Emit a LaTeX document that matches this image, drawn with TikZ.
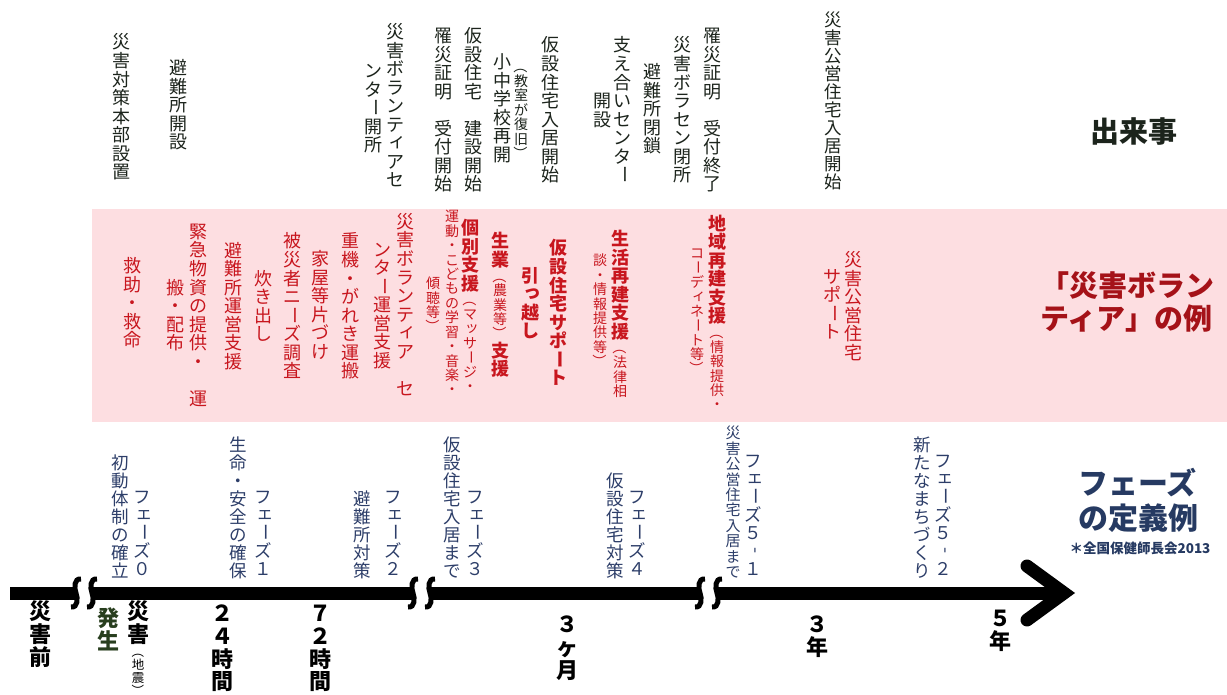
\documentclass[tikz,border=0pt]{standalone}
\usepackage{fontspec}
\usepackage{graphicx}
\setmainfont{Noto Sans CJK JP}
\newfontfamily\jp{Noto Sans CJK JP}
\newcommand\fsz[1]{\fontsize{#1}{#1}\selectfont}
% ---- vertical stacking of characters ----
\def\Vss{14}
\def\Vbs{18}
\def\Vcf{1.03}
\def\Vend{\Vend}
\def\VS{\VS}
\def\VB{\VB}
\newcommand\V[1]{\vbox{\offinterlineskip\Vloop#1\Vend}}
\def\Vloop#1{%
  \ifx#1\Vend
  \else
    \ifx#1\VS \mdseries\fontsize{\Vss}{\Vss}\selectfont
    \else
      \ifx#1\VB \bfseries\fontsize{\Vbs}{\Vbs}\selectfont
      \else \Vchar{#1}%
      \fi
    \fi
    \expandafter\Vloop
  \fi}
\def\Vcell#1{\hbox to 0pt{\hss\vbox to \Vcf em{\vss\hbox{#1}\vss}\hss}}
\def\Vput#1{\Vcell{\raisebox{0pt}[0.88em][0.12em]{#1}}}
\def\Vrot#1{\Vcell{\rotatebox[origin=c]{-90}{#1}}}
\def\Vsk#1{\Vcell{\raisebox{0.13em}[0.88em][0.12em]{\kern0.26em#1}}}
\def\Vchar#1{%
  \ifx#1ー\Vrot{#1}\else
  \ifx#1（\Vrot{#1}\else
  \ifx#1）\Vrot{#1}\else
  \ifx#1-\Vrot{#1}\else
  \ifx#1ィ\Vsk{#1}\else
  \ifx#1ェ\Vsk{#1}\else
  \ifx#1ッ\Vsk{#1}\else
  \ifx#1っ\Vsk{#1}\else
  \Vput{#1}%
  \fi\fi\fi\fi\fi\fi\fi\fi}
% ---- colours ----
\definecolor{evc}{RGB}{28,36,28}
\definecolor{redc}{RGB}{200,22,30}
\definecolor{dred}{RGB}{165,18,24}
\definecolor{pinkbg}{RGB}{253,222,225}
\definecolor{navy}{RGB}{45,62,105}
\definecolor{navyd}{RGB}{38,58,98}
\definecolor{grn}{RGB}{40,62,30}
\tikzset{
  vc/.style={inner sep=0pt},
  ev/.style={vc, text=evc, font=\jp\fsz{18}},
  rd/.style={vc, text=redc, font=\jp\fsz{18}},
  rdb/.style={vc, text=redc, font=\jp\bfseries\fsz{18}},
  rds/.style={vc, text=redc, font=\jp\fsz{14}},
  ph/.style={vc, anchor=south, text=navy, font=\jp\fsz{17.5}},
  tl/.style={vc, anchor=north, text=black, font=\jp\bfseries\fsz{22}},
  bar/.style={line width=13pt},
  brk/.pic={\draw[line width=5pt] (5,-14) .. controls (-2,-15) and (-2,-5) .. (0,0) .. controls (2,5) and (2,15) .. (-5,14);}
}
\begin{document}
\begin{tikzpicture}[x=1pt,y=-1pt]
\useasboundingbox (0,0) rectangle (1227,695);
\fill[white] (0,0) rectangle (1227,695);
\fill[pinkbg] (92,209) rectangle (1227,422);

% events
\node[ev] (e1) at (121,107) {\V{災害対策本部設置}};
\node[ev] (e2) at (178,105) {\V{避難所開設}};
\node[ev] (e3a) at (395,106) {\V{災害ボランティアセ}};
\node[ev] (e3b) at (373,108) {\V{ンター開所}};
\node[ev] (e4) at (443,110) {\V{罹災証明　受付開始}};
\node[ev] (e5) at (473,110) {\V{仮設住宅　建設開始}};
\node[ev] (e6) at (502,108) {\V{小中学校再開}};
\node[ev, font=\jp\fsz{14}] (e7) at (521,110) {\V{（教室が復旧）}};
\node[ev] (e8) at (550,110) {\V{仮設住宅入居開始}};
\node[ev] (e9a) at (622,110) {\V{支え合いセンター}};
\node[ev] (e9b) at (602,110) {\V{開設}};
\node[ev] (e10) at (652,109) {\V{避難所閉鎖}};
\node[ev] (e11) at (682,110) {\V{災害ボラセン閉所}};
\node[ev] (e12) at (712,110) {\V{罹災証明　受付終了}};
\node[ev, font=\jp\fsz{17.5}] (e13) at (833,101) {\V{災害公営住宅入居開始}};
\node[vc, text=evc, font=\jp\bfseries\fsz{29}] (t1) at (1134,132) {出来事};

% volunteer examples
\node[rd] (r1) at (132,303) {\V{救助・救命}};
\node[rd] (r2a) at (198,315) {\V{緊急物資の提供・　運}};
\node[rd] (r2b) at (175,315) {\V{搬・配布}};
\node[rd] (r3) at (233,306) {\V{避難所運営支援}};
\node[rd] (r4) at (263,306) {\V{炊き出し}};
\node[rd] (r5) at (292,306) {\V{被災者ニーズ調査}};
\node[rd] (r6) at (320,305) {\V{家屋等片づけ}};
\node[rd] (r7) at (350,306) {\V{重機・がれき運搬}};
\node[rd] (r8a) at (405,305) {\V{災害ボランティア　セ}};
\node[rd] (r8b) at (382,305) {\V{ンター運営支援}};
\node[rdb] (r9) at (470,306) {\V{個別支援\VS （マッサージ・}};
\node[rds] (r10) at (452,303) {\V{運動・こどもの学習・音楽・}};
\node[rds] (r11) at (433,305) {\V{傾聴等）}};
\node[rdb] (r12) at (500,305) {\V{生業\VS （農業等）\VB 支援}};
\node[rdb] (r13) at (558,313) {\V{仮設住宅サポート}};
\node[rdb] (r14) at (530,303) {\V{引っ越し}};
\node[rdb] (r15) at (620,314) {\V{生活再建支援\VS （法律相}};
\node[rds] (r16) at (600,311) {\V{談・情報提供等）}};
\node[rdb] (r17) at (717,313) {\V{地域再建支援\VS （情報提供・}};
\node[rds] (r18) at (697,311) {\V{コーディネート等）}};
\node[rd] (r19a) at (853,306) {\V{災害公営住宅}};
\node[rd] (r19b) at (832,304) {\V{サポート}};
\node[text=dred, font=\jp\bfseries\fontsize{29}{33}\selectfont, align=left, anchor=west, inner sep=0pt] (t2) at (1040,302) {「災害ボラン\\ティア」の例};

% phases
\node[ph] (p0a) at (142,578) {\V{フェーズ０}};
\node[ph] (p0b) at (120,580) {\V{初動体制の確立}};
\node[ph] (p1a) at (263,578) {\V{フェーズ１}};
\node[ph] (p1b) at (238,580) {\V{生命・安全の確保}};
\node[ph] (p2a) at (393,578) {\V{フェーズ２}};
\node[ph] (p2b) at (362,580) {\V{避難所対策}};
\node[ph] (p3a) at (475,578) {\V{フェーズ３}};
\node[ph] (p3b) at (452,580) {\V{仮設住宅入居まで}};
\node[ph] (p4a) at (637,578) {\V{フェーズ４}};
\node[ph] (p4b) at (615,580) {\V{仮設住宅対策}};
\node[ph] (p5a) at (753,578) {\V{フェーズ５-１}};
\node[ph, font=\jp\fsz{15}] (p5b) at (733,580) {\V{災害公営住宅入居まで}};
\node[ph] (p6a) at (943,578) {\V{フェーズ５-２}};
\node[ph] (p6b) at (922,580) {\V{新たなまちづくり}};
\node[text=navyd, font=\jp\bfseries\fontsize{30}{35}\selectfont, align=left, anchor=west, inner sep=0pt] (t3) at (1078,500) {フェーズ\\の定義例};
\node[vc, text=navyd, font=\jp\bfseries\fsz{13.5}] (t4) at (1140,548) {＊全国保健師長会2013};

% timeline
\coordinate (a0) at (10,593);
\coordinate (a1) at (77,593);
\coordinate (b0) at (92,593);
\coordinate (b1) at (414,593);
\coordinate (c0) at (430,593);
\coordinate (c1) at (701,593);
\coordinate (d0) at (717,593);
\coordinate (d1) at (1060,593);
\draw[bar] (a0) -- (a1);
\draw[bar] (b0) -- (b1);
\draw[bar] (c0) -- (c1);
\draw[bar] (d0) -- (d1);
\pic at (76,593) {brk};
\pic at (92,593) {brk};
\pic at (413,593) {brk};
\pic at (430,593) {brk};
\pic at (700,593) {brk};
\pic at (717,593) {brk};
\coordinate (h1) at (1027,566);
\coordinate (h2) at (1064,593);
\coordinate (h3) at (1027,620);
\draw[bar, line cap=round, line join=miter] (h1) -- (h2) -- (h3);

% timeline labels
\node[tl] (l1) at (40,600) {\V{災害前}};
\node[tl, text=grn] (l2) at (108,607) {\V{発生}};
\node[tl] (l3) at (138,600) {\def\Vss{12.5}\V{災害\VS （地震）}};
\node[tl] (l4) at (222,602) {\V{２４時間}};
\node[tl] (l5) at (320,602) {\V{７２時間}};
\node[tl] (l6) at (567,613) {\V{３ヶ月}};
\node[tl] (l7) at (817,613) {\V{３年}};
\node[tl] (l8) at (1000,607) {\V{５年}};
\end{tikzpicture}
\end{document}
